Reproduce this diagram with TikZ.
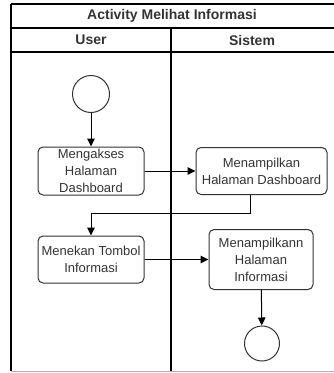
\documentclass[tikz,border=0pt]{standalone}
\usepackage{fontspec}
\setmainfont{Liberation Sans}
\usetikzlibrary{arrows.meta}

\definecolor{linegray}{HTML}{333333}
\tikzset{
    act/.style={draw=linegray, line width=1pt, rounded corners=5pt, align=center,
        text=linegray, font=\fontsize{13}{17}\selectfont, inner sep=0pt},
    state/.style={draw=linegray, line width=1pt, circle, inner sep=0pt},
    flow/.style={line width=1pt, -{Triangle[length=8pt,width=7.5pt]}},
    head/.style={font=\fontsize{14}{16}\selectfont\bfseries, text=linegray}
}

\begin{document}
\begin{tikzpicture}[x=1pt, y=-1pt]
    \useasboundingbox (0,0) rectangle (334,373);

    % swimlane frame
    \draw[line width=1.2pt] (11,4) -- (334,4);
    \draw[line width=1.2pt] (11,28) -- (334,28);
    \draw[line width=1.2pt] (11,52) -- (334,52);
    \draw[line width=1.2pt] (11,4) -- (11,371);
    \draw[line width=1.2pt] (171,28) -- (171,371);
    \draw[line width=1pt, black!30] (11,371) -- (334,371);
    \node[head] (title) at (172,16) {Activity Melihat Informasi};
    \node[head] (laneuser) at (91,40) {User};
    \node[head] (lanesys) at (252,40) {Sistem};

    % user lane
    \node[state, minimum size=37pt] (start) at (91,94) {};
    \node[act, minimum width=106pt, minimum height=48pt] (akses) at (91,171)
        {Mengakses\\Halaman\\Dashboard};
    \node[act, minimum width=106pt, minimum height=47pt] (tekan) at (91,259.5)
        {Menekan Tombol\\Informasi};

    % system lane
    \node[act, minimum width=131pt, minimum height=47pt] (dash) at (261.5,171)
        {Menampilkan\\Halaman Dashboard};
    \node[act, minimum width=104pt, minimum height=60pt] (info) at (261,259.5)
        {Menampilkann\\Halaman\\Informasi};
    \node[state, minimum size=35pt] (stop) at (262,343.5) {};

    % flows
    \coordinate (turn) at (250,213);
    \draw[flow] (start) -- (akses);
    \draw[flow] (akses) -- (dash);
    \draw[flow] (dash.south -| turn) -- (turn) -| (tekan.north);
    \draw[flow] (tekan) -- (info);
    \draw[flow] (info) -- (stop);
\end{tikzpicture}
\end{document}
